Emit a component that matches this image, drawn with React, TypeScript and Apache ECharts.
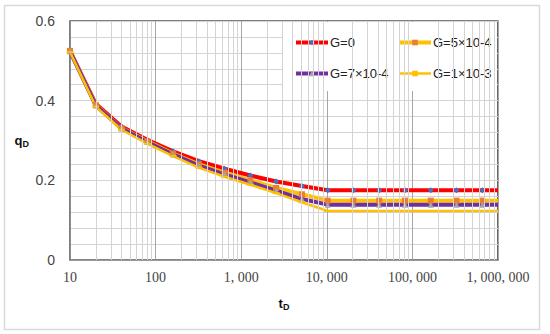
import React, { useEffect, useRef } from "react";
import * as echarts from "echarts";

const tD = [10, 20, 40, 80, 160, 320, 640, 1280, 2560, 5120, 10240, 20480, 40960, 81920, 163840, 327680, 655360, 1000000];
const g0 = [0.525, 0.392, 0.335, 0.302, 0.273, 0.248, 0.229, 0.212, 0.197, 0.186, 0.175, 0.175, 0.175, 0.175, 0.175, 0.175, 0.175, 0.175];
const g5 = [0.525, 0.389, 0.331, 0.298, 0.267, 0.240, 0.219, 0.200, 0.181, 0.165, 0.149, 0.149, 0.149, 0.149, 0.149, 0.149, 0.149, 0.149];
const g7 = [0.524, 0.388, 0.330, 0.296, 0.265, 0.237, 0.215, 0.195, 0.174, 0.153, 0.139, 0.139, 0.139, 0.139, 0.139, 0.139, 0.139, 0.139];
const g10 = [0.522, 0.385, 0.327, 0.292, 0.261, 0.232, 0.209, 0.189, 0.168, 0.145, 0.123, 0.123, 0.123, 0.123, 0.123, 0.123, 0.123, 0.123];
const names = ["G=0", "G=5×10-4", "G=7×10-4", "G=1×10-3"];
const decades = [10, 100, 1000, 10000, 100000];
const minorSteps = [2, 3, 4, 5, 6, 7, 8, 9];

function pts(vals: number[]) {
  return tD.map((x, i) =>
    i === tD.length - 1 ? { value: [x, vals[i]], symbol: "none" } : { value: [x, vals[i]] }
  );
}

function fmtX(v: number) {
  const s = Math.round(v).toString();
  return s.replace(/\B(?=(\d{3})+(?!\d))/g, ", ");
}

export default function App() {
  const ref = useRef<HTMLDivElement>(null);
  useEffect(() => {
    if (!ref.current) return;
    const chart = echarts.init(ref.current, undefined, { renderer: "svg" });
    const minorLines: any[] = [];
    decades.forEach((d) => minorSteps.forEach((k) => minorLines.push({ xAxis: d * k })));
    const sans = "Liberation Sans";
    const legendCommon = {
      orient: "vertical",
      top: 31,
      itemWidth: 32,
      itemHeight: 7,
      itemGap: 18,
      z: 5,
      lineStyle: { width: "inherit" },
      textStyle: { fontSize: 13, color: "#222", fontFamily: sans, padding: [0, 0, 0, -3] },
    };
    chart.setOption({
      animation: false,
      backgroundColor: "#fff",
      textStyle: { fontFamily: sans },
      grid: {
        left: 70,
        right: 52,
        top: 21,
        bottom: 74,
        show: true,
        borderColor: "#000",
        borderWidth: 1.2,
        backgroundColor: "transparent",
      },
      graphic: [
        {
          type: "rect",
          z: 0,
          shape: { x: 4.5, y: 5.5, width: 535, height: 324 },
          style: { fill: "none", stroke: "#d9d9d9", lineWidth: 1.5 },
        },
        {
          type: "rect",
          z: 3,
          shape: { x: 283, y: 22, width: 214, height: 69 },
          style: { fill: "#fff" },
        },
      ],
      legend: [
        { ...legendCommon, data: [names[0], names[2]], left: 289 },
        { ...legendCommon, data: [names[1], names[3]], left: 392 },
      ],
      xAxis: {
        type: "log",
        logBase: 10,
        min: 10,
        max: 1000000,
        name: "{a|t}{b|D}",
        nameLocation: "middle",
        nameGap: 36,
        nameTextStyle: {
          rich: {
            a: { fontSize: 13, fontWeight: "bold", color: "#111", fontFamily: sans },
            b: { fontSize: 9, fontWeight: "bold", color: "#111", fontFamily: sans, verticalAlign: "bottom", padding: [6, 0, 0, 0] },
          },
        },
        axisLine: { show: true, lineStyle: { color: "#868686", width: 1.5 } },
        axisTick: { show: false },
        axisLabel: {
          formatter: fmtX,
          fontFamily: "Liberation Serif",
          fontSize: 14,
          color: "#444",
          margin: 10,
        },
        splitLine: { show: true, lineStyle: { color: "#a6a6a6", width: 1 } },
      },
      yAxis: {
        type: "value",
        min: 0,
        max: 0.6,
        interval: 0.2,
        name: "{a|q}{b|D}",
        nameLocation: "middle",
        nameRotate: 0,
        nameGap: 41,
        nameTextStyle: {
          rich: {
            a: { fontSize: 13, fontWeight: "bold", color: "#111", fontFamily: sans },
            b: { fontSize: 9, fontWeight: "bold", color: "#111", fontFamily: sans, verticalAlign: "bottom", padding: [6, 0, 0, 0] },
          },
        },
        axisLine: { show: true, lineStyle: { color: "#868686", width: 1.5 } },
        axisTick: { show: false },
        axisLabel: { fontSize: 14, color: "#444", margin: 15, fontFamily: sans },
        splitLine: { show: true, lineStyle: { color: "#d4d4d4", width: 1 } },
        minorTick: { show: false, splitNumber: 5 },
        minorSplitLine: { show: true, lineStyle: { color: "#d4d4d4", width: 1 } },
      },
      series: [
        {
          type: "line",
          name: "_minor",
          data: [],
          z: 1,
          silent: true,
          markLine: {
            silent: true,
            symbol: ["none", "none"],
            label: { show: false },
            lineStyle: { color: "#d4d4d4", width: 1, type: "solid" },
            emphasis: { disabled: true },
            data: minorLines,
          },
        },
        {
          type: "line",
          name: names[0],
          data: pts(g0),
          lineStyle: { color: "#ff0000", width: 4 },
          itemStyle: { color: "#4472c4" },
          symbol: "diamond",
          symbolSize: 6,
          z: 2,
        },
        {
          type: "line",
          name: names[1],
          data: pts(g5),
          lineStyle: { color: "#ffc000", width: 4 },
          itemStyle: { color: "#ed7d31" },
          symbol: "rect",
          symbolSize: 6,
          z: 2,
        },
        {
          type: "line",
          name: names[2],
          data: pts(g7),
          lineStyle: { color: "#7030a0", width: 4 },
          itemStyle: { color: "#a5a5a5" },
          symbol: "triangle",
          symbolSize: 6,
          z: 2,
        },
        {
          type: "line",
          name: names[3],
          data: pts(g10),
          lineStyle: { color: "#ffc000", width: 2.5 },
          itemStyle: { color: "#ffc000" },
          symbol: "rect",
          symbolSize: [7, 2],
          z: 2,
        },
      ],
    });
    return () => chart.dispose();
  }, []);
  return <div ref={ref} style={{ position: "fixed", left: 0, top: 0, width: 550, height: 334 }} />;
}
